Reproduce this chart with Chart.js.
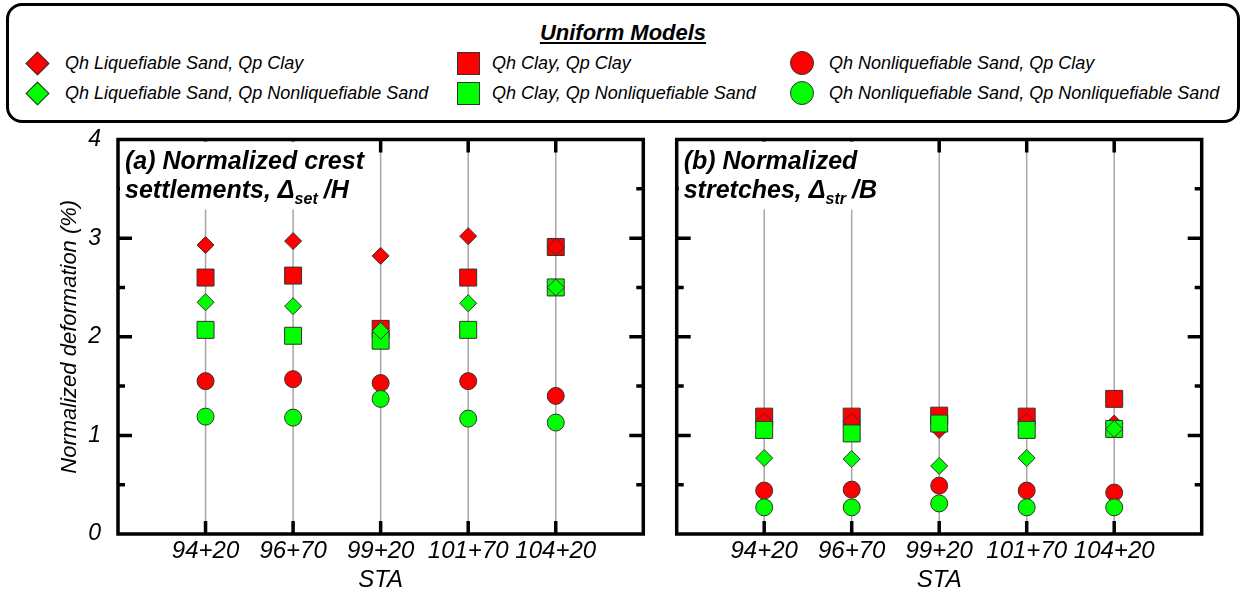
<!DOCTYPE html>
<html>
<head>
<meta charset="utf-8">
<script src="https://cdn.jsdelivr.net/npm/chart.js@4/dist/chart.umd.min.js"></script>
<style>
  body { margin: 0; width: 1246px; height: 592px; background: #fff; overflow: hidden; position: relative;
         font-family: 'Liberation Sans', Arial, sans-serif; }
  #legend { position: absolute; left: 6px; top: 3px; width: 1228px; height: 114px;
            border: 3px solid #000; border-radius: 16px; }
  #legend .ttl { position: absolute; left: 0; width: 100%; top: 14px; text-align: center;
                 font: italic bold 22px 'Liberation Sans', Arial, sans-serif; text-decoration: underline; }
  .item { position: absolute; font: italic 18px 'Liberation Sans', Arial, sans-serif; line-height: 20px; white-space: nowrap; }
  .mk { position: absolute; border: 1px solid #333; box-sizing: border-box; }
  canvas { position: absolute; }
</style>
</head>
<body>
<div id="legend"><div class="ttl">Uniform Models</div></div>
<div style="position:absolute;left:0;top:125px;width:660px;height:467px"><canvas id="chartA"></canvas></div>
<div style="position:absolute;left:660px;top:125px;width:586px;height:467px"><canvas id="chartB"></canvas></div>
<script>
const categories = ['94+20', '96+70', '99+20', '101+70', '104+20'];
const yTicks = [0, 1, 2, 3, 4];

// series names (legend order: column by column)
const seriesNames = [
  'Qh Liquefiable Sand, Qp Clay',
  'Qh Liquefiable Sand, Qp Nonliquefiable Sand',
  'Qh Clay, Qp Clay',
  'Qh Clay, Qp Nonliquefiable Sand',
  'Qh Nonliquefiable Sand, Qp Clay',
  'Qh Nonliquefiable Sand, Qp Nonliquefiable Sand'
];
const seriesColors = ['#ff0000', '#00ff00', '#ff0000', '#00ff00', '#ff0000', '#00ff00'];
const seriesShapes = ['rectRot', 'rectRot', 'rect', 'rect', 'circle', 'circle'];
const seriesOrder = [5, 3, 6, 4, 2, 1]; // higher = drawn underneath

// (a) normalized crest settlements
const setLiqClay      = [2.93, 2.97, 2.82, 3.02, 2.91];
const setLiqNonliq    = [2.35, 2.31, 2.06, 2.34, 2.50];
const setClayClay     = [2.60, 2.62, 2.08, 2.60, 2.91];
const setClayNonliq   = [2.07, 2.01, 1.96, 2.07, 2.50];
const setNonliqClay   = [1.55, 1.57, 1.53, 1.55, 1.40];
const setNonliqNonliq = [1.19, 1.18, 1.37, 1.17, 1.13];

// (b) normalized stretches
const strLiqClay      = [1.14, 1.14, 1.055, 1.14, 1.12];
const strLiqNonliq    = [0.77, 0.76, 0.69, 0.77, 1.065];
const strClayClay     = [1.19, 1.19, 1.20, 1.19, 1.37];
const strClayNonliq   = [1.055, 1.02, 1.12, 1.055, 1.065];
const strNonliqClay   = [0.44, 0.45, 0.49, 0.44, 0.42];
const strNonliqNonliq = [0.27, 0.27, 0.31, 0.27, 0.27];

const FONT = "'Liberation Sans', Arial, sans-serif";
const radius = {rectRot: 8.5, rect: 12, circle: 8.5};

// legend
const legend = document.getElementById('legend');
const colText = [56, 483, 820], colMark = [28.7, 459.5, 793], rowY = [57, 87];
seriesNames.forEach(function (name, i) {
  const c = Math.floor(i / 2), r = i % 2;
  const t = document.createElement('div');
  t.className = 'item';
  t.textContent = name;
  t.style.left = colText[c] + 'px';
  t.style.top = (rowY[r] - 10) + 'px';
  legend.appendChild(t);
  const m = document.createElement('div');
  m.className = 'mk';
  m.style.background = seriesColors[i];
  let s = seriesShapes[i] === 'rectRot' ? 17 : (seriesShapes[i] === 'rect' ? 23 : 24);
  m.style.width = s + 'px';
  m.style.height = s + 'px';
  m.style.left = (colMark[c] - s / 2) + 'px';
  m.style.top = (rowY[r] - s / 2) + 'px';
  if (seriesShapes[i] === 'rectRot') m.style.transform = 'rotate(45deg)';
  if (seriesShapes[i] === 'circle') m.style.borderRadius = '50%';
  legend.appendChild(m);
});

function makeDatasets(series) {
  return series.map(function (vals, i) {
    return {
      label: seriesNames[i],
      data: vals.map(function (v, k) { return {x: k + 1, y: v}; }),
      pointStyle: seriesShapes[i],
      pointRadius: radius[seriesShapes[i]],
      backgroundColor: seriesColors[i],
      borderColor: '#333',
      borderWidth: 1,
      order: seriesOrder[i]
    };
  });
}

function panelPlugin(line1, line2a, sub, line2b) {
  return {
    id: 'panel',
    beforeDatasetsDraw(chart) {
      const ctx = chart.ctx, a = chart.chartArea;
      const xs = chart.scales.x, ys = chart.scales.y;
      ctx.save();
      // grey station lines
      ctx.strokeStyle = '#a6a6a6';
      ctx.lineWidth = 1.5;
      categories.forEach(function (c, k) {
        const px = xs.getPixelForValue(k + 1);
        ctx.beginPath(); ctx.moveTo(px, a.top); ctx.lineTo(px, a.bottom); ctx.stroke();
      });
      // inward ticks
      ctx.strokeStyle = '#000';
      ctx.lineWidth = 3.5;
      for (let v = 0.5; v < 4; v += 0.5) {
        const py = ys.getPixelForValue(v);
        const len = Number.isInteger(v) ? 14 : 7;
        ctx.beginPath();
        ctx.moveTo(a.left, py); ctx.lineTo(a.left + len, py);
        ctx.moveTo(a.right, py); ctx.lineTo(a.right - len, py);
        ctx.stroke();
      }
      categories.forEach(function (c, k) {
        const px = xs.getPixelForValue(k + 1);
        ctx.beginPath();
        ctx.moveTo(px, a.bottom); ctx.lineTo(px, a.bottom - 13);
        ctx.moveTo(px, a.top); ctx.lineTo(px, a.top + 13);
        ctx.stroke();
      });
      // title box
      const big = 'italic bold 25px ' + FONT, small = 'italic bold 16px ' + FONT;
      ctx.font = big;
      const w1 = ctx.measureText(line1).width;
      const w2a = ctx.measureText(line2a).width;
      const w2b = ctx.measureText(line2b).width;
      ctx.font = small;
      const ws = ctx.measureText(sub).width;
      const tx = a.left + 7;
      const gap = 6;
      const boxW = Math.max(w1, w2a + ws + gap + w2b) + 6;
      ctx.fillStyle = '#fff';
      ctx.fillRect(a.left + 2, a.top + 2, boxW + 5, 68);
      ctx.fillStyle = '#000';
      ctx.textBaseline = 'alphabetic';
      ctx.font = big;
      ctx.fillText(line1, tx, a.top + 29);
      ctx.fillText(line2a, tx, a.top + 58);
      ctx.font = small;
      ctx.fillText(sub, tx + w2a, a.top + 64);
      ctx.font = big;
      ctx.fillText(line2b, tx + w2a + ws + gap, a.top + 58);
      ctx.restore();
    },
    afterDraw(chart) {
      const ctx = chart.ctx, a = chart.chartArea;
      ctx.save();
      ctx.strokeStyle = '#000';
      ctx.lineWidth = 3.5;
      ctx.strokeRect(a.left, a.top, a.right - a.left, a.bottom - a.top);
      ctx.restore();
    }
  };
}

function noPad(s) { s.paddingTop = 0; s.paddingBottom = 0; s.paddingLeft = 0; s.paddingRight = 0; }

function xAxis() {
  return {
    type: 'linear', min: 0, max: 6,
    grid: {display: false, drawTicks: false},
    border: {display: false},
    afterBuildTicks: function (s) { s.ticks = [0, 1, 2, 3, 4, 5, 6].map(function (v) { return {value: v}; }); },
    ticks: {
      autoSkip: false, maxRotation: 0, padding: 3, color: '#000',
      font: {family: FONT, size: 24, style: 'italic'},
      callback: function (v) { return categories[v - 1] || ''; }
    },
    title: {display: true, text: 'STA', color: '#000', padding: {top: 0, bottom: 0},
            font: {family: FONT, size: 24, style: 'italic', lineHeight: 1.0}},
    afterFit: function (s) { s.height = 58; noPad(s); }
  };
}

const common = {
  responsive: true, maintainAspectRatio: false, animation: false, events: [],
  plugins: {legend: {display: false}, tooltip: {enabled: false}}
};

new Chart(document.getElementById('chartA'), {
  type: 'scatter',
  data: {datasets: makeDatasets([setLiqClay, setLiqNonliq, setClayClay, setClayNonliq, setNonliqClay, setNonliqNonliq])},
  options: Object.assign({}, common, {
    layout: {padding: {left: 0, right: 16.7, top: 14.5, bottom: 0}},
    scales: {
      x: xAxis(),
      y: {
        min: 0, max: 4,
        grid: {display: false, drawTicks: false},
        border: {display: false},
        afterBuildTicks: function (s) { s.ticks = yTicks.map(function (v) { return {value: v}; }); },
        ticks: {padding: 17, color: '#000', font: {family: FONT, size: 23, style: 'italic'}},
        title: {display: true, text: 'Normalized deformation (%)', color: '#000',
                padding: {top: 57, bottom: 0}, font: {family: FONT, size: 22, style: 'italic'}},
        afterFit: function (s) { s.width = 118; noPad(s); }
      }
    }
  }),
  plugins: [panelPlugin('(a) Normalized crest', 'settlements, \u0394', 'set', '/H')]
});

new Chart(document.getElementById('chartB'), {
  type: 'scatter',
  data: {datasets: makeDatasets([strLiqClay, strLiqNonliq, strClayClay, strClayNonliq, strNonliqClay, strNonliqNonliq])},
  options: Object.assign({}, common, {
    layout: {padding: {left: 16.7, right: 44.3, top: 14.5, bottom: 0}},
    scales: {
      x: xAxis(),
      y: {min: 0, max: 4, display: false}
    }
  }),
  plugins: [panelPlugin('(b) Normalized', 'stretches, \u0394', 'str', '/B')]
});
</script>
</body>
</html>
